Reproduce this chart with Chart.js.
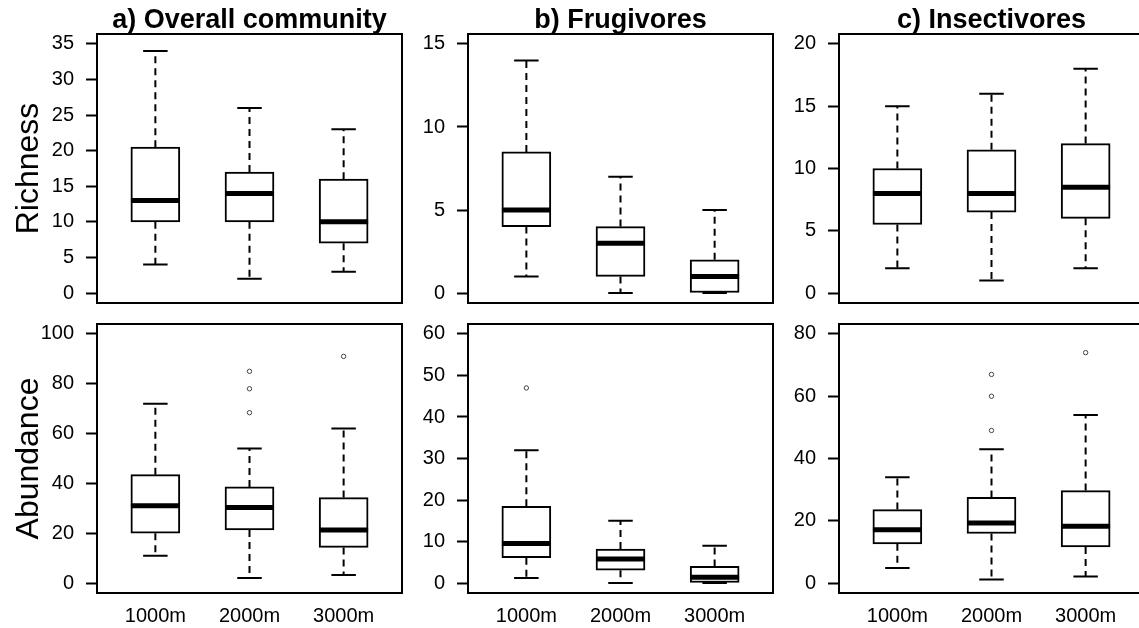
<!DOCTYPE html>
<html><head><meta charset="utf-8">
<script src="https://cdn.jsdelivr.net/npm/chart.js@4.4.0/dist/chart.umd.min.js"></script>
<style>
html,body{margin:0;padding:0;background:#fff;overflow:hidden;width:1139px;height:628px;position:relative;}
canvas{position:absolute;}
</style></head><body>
<canvas id="c0" width="404" height="310" style="left:0;top:0"></canvas>
<canvas id="c1" width="371" height="310" style="left:404px;top:0"></canvas>
<canvas id="c2" width="372" height="310" style="left:774px;top:0"></canvas>
<canvas id="c3" width="407" height="318" style="left:0;top:310px"></canvas>
<canvas id="c4" width="374" height="318" style="left:404px;top:310px"></canvas>
<canvas id="c5" width="375" height="318" style="left:774px;top:310px"></canvas>
<script>
// ---- data (each box: [lower whisker, Q1, median, Q3, upper whisker]) ----
const categories = ['1000m', '2000m', '3000m'];
const panelTitles = ['a) Overall community', 'b) Frugivores', 'c) Insectivores'];
const rowTitles = ['Richness', 'Abundance'];

const richOverallStats = [[4, 10, 13, 20.5, 34], [2, 10, 14, 17, 26], [3, 7, 10, 16, 23]];
const richOverallOutliers = [[], [], []];
const richOverallTicks = [0, 5, 10, 15, 20, 25, 30, 35];
const richOverallLim = [0, 35];

const richFrugStats = [[1, 4, 5, 8.5, 14], [0, 1, 3, 4, 7], [0, 0, 1, 2, 5]];
const richFrugOutliers = [[], [], []];
const richFrugTicks = [0, 5, 10, 15];
const richFrugLim = [0, 15];

const richInsStats = [[2, 5.5, 8, 10, 15], [1, 6.5, 8, 11.5, 16], [2, 6, 8.5, 12, 18]];
const richInsOutliers = [[], [], []];
const richInsTicks = [0, 5, 10, 15, 20];
const richInsLim = [0, 20];

const abunOverallStats = [[11, 20, 31, 43.5, 72], [2, 21.3, 30.3, 38.6, 54], [3.2, 14.3, 21.3, 34.3, 62]];
const abunOverallOutliers = [[], [68.4, 78, 85], [91]];
const abunOverallTicks = [0, 20, 40, 60, 80, 100];
const abunOverallLim = [0, 100];

const abunFrugStats = [[1.2, 6.1, 9.5, 18.5, 32], [0, 3.1, 5.8, 8.2, 15], [0, 0, 1.4, 4, 9]];
const abunFrugOutliers = [[47], [], []];
const abunFrugTicks = [0, 10, 20, 30, 40, 50, 60];
const abunFrugLim = [0, 60];

const abunInsStats = [[4.8, 12.6, 17.1, 23.6, 34], [1.1, 15.9, 19.3, 27.5, 43], [2.1, 11.6, 18.2, 29.7, 54]];
const abunInsOutliers = [[], [49, 60, 67], [74]];
const abunInsTicks = [0, 20, 40, 60, 80];
const abunInsLim = [0, 80];

// ---- drawing ----
const FONT = "'Liberation Sans', Arial, sans-serif";
const BOX_HALF = 0.26, CAP_HALF = 0.13;

const framePlugin = {
  id: 'frame',
  afterDraw(chart) {
    const {ctx, chartArea: a} = chart;
    ctx.save();
    ctx.strokeStyle = '#000';
    ctx.lineWidth = 2;
    ctx.strokeRect(a.left, a.top, a.right - a.left, a.bottom - a.top);
    ctx.restore();
  }
};

function noPad(s) { s.paddingLeft = 0; s.paddingRight = 0; s.paddingTop = 0; s.paddingBottom = 0; }

function makePanel(id, stats, outliers, ticks, lim, opt) {
  const whisk = [], caps = [], meds = [], boxes = [], outs = [];
  stats.forEach((s, i) => {
    const x = i + 1;
    whisk.push({x, y: s[3]}, {x, y: s[4]}, {x, y: null}, {x, y: s[1]}, {x, y: s[0]}, {x, y: null});
    caps.push({x: x - CAP_HALF, y: s[4]}, {x: x + CAP_HALF, y: s[4]}, {x, y: null},
              {x: x - CAP_HALF, y: s[0]}, {x: x + CAP_HALF, y: s[0]}, {x, y: null});
    meds.push({x: x - BOX_HALF, y: s[2]}, {x: x + BOX_HALF, y: s[2]}, {x, y: null});
    boxes.push({x, y: [s[1], s[3]]});
    outliers[i].forEach(v => outs.push({x, y: v}));
  });
  const pad = 0.04 * (lim[1] - lim[0]);
  const scales = {
    x: {
      type: 'linear', min: 0.38, max: 3.62, offset: false,
      afterBuildTicks: s => { s.ticks = [1, 2, 3].map(v => ({value: v})); },
      afterFit: s => { s.height = opt.xHeight; noPad(s); },
      grid: {display: false, drawTicks: false}, border: {display: false},
      ticks: {display: opt.showX, padding: 11, color: '#000', autoSkip: false, maxRotation: 0,
              font: {family: FONT, size: 20}, callback: v => categories[v - 1]}
    },
    y: {
      type: 'linear', min: lim[0] - pad, max: lim[1] + pad,
      afterBuildTicks: s => { s.ticks = ticks.map(v => ({value: v})); },
      afterFit: s => { s.width = opt.yWidth; noPad(s); },
      grid: {display: true, drawOnChartArea: false, drawTicks: true, tickLength: 11,
             tickWidth: 2, tickColor: '#000'},
      border: {display: false},
      ticks: {padding: 12, color: '#000', font: {family: FONT, size: 20}},
      title: {display: !!opt.yTitle, text: opt.yTitle || '', color: '#000',
              font: {family: FONT, size: 32}, padding: {top: 10, bottom: 0}}
    }
  };
  if (opt.title) {
    scales.xTitle = {
      type: 'linear', position: 'top', min: 0, max: 1, display: true,
      afterFit: s => { s.height = opt.titleHeight; noPad(s); },
      grid: {display: false, drawTicks: false}, border: {display: false},
      ticks: {display: false},
      title: {display: true, text: opt.title, color: '#000',
              font: {family: FONT, size: 27, weight: 'bold', lineHeight: 1},
              padding: {top: 7, bottom: 0}}
    };
  }
  new Chart(document.getElementById(id), {
    type: 'bar',
    data: {
      datasets: [
        {type: 'line', data: whisk, borderColor: '#000', borderWidth: 2, borderDash: [7, 5],
         pointRadius: 0, spanGaps: false, order: 3},
        {type: 'line', data: caps, borderColor: '#000', borderWidth: 2,
         pointRadius: 0, spanGaps: false, order: 3},
        {type: 'bar', data: boxes, backgroundColor: '#fff', borderColor: '#000', borderWidth: 2,
         borderSkipped: false, barThickness: 49, order: 2},
        {type: 'line', data: meds, borderColor: '#000', borderWidth: 5, borderCapStyle: 'butt',
         pointRadius: 0, spanGaps: false, order: 1},
        {type: 'scatter', data: outs, pointRadius: 2.2, pointBorderWidth: 1,
         pointBorderColor: '#444', pointBackgroundColor: '#fff', order: 0}
      ]
    },
    options: {
      responsive: false, animation: false, devicePixelRatio: 1,
      layout: {padding: {left: 0, right: 2, top: opt.padTop, bottom: opt.padBottom}},
      plugins: {legend: {display: false}, tooltip: {enabled: false}, title: {display: false}},
      scales
    },
    plugins: [framePlugin]
  });
}

const topRowOpt = {padTop: 0, padBottom: 7, xHeight: 0, showX: false, titleHeight: 34};
const botRowOpt = {padTop: 14, padBottom: 0, xHeight: 35, showX: true};
makePanel('c0', richOverallStats, richOverallOutliers, richOverallTicks, richOverallLim,
  Object.assign({}, topRowOpt, {title: panelTitles[0], yTitle: rowTitles[0], yWidth: 97}));
makePanel('c1', richFrugStats, richFrugOutliers, richFrugTicks, richFrugLim,
  Object.assign({}, topRowOpt, {title: panelTitles[1], yWidth: 64}));
makePanel('c2', richInsStats, richInsOutliers, richInsTicks, richInsLim,
  Object.assign({}, topRowOpt, {title: panelTitles[2], yWidth: 65}));
makePanel('c3', abunOverallStats, abunOverallOutliers, abunOverallTicks, abunOverallLim,
  Object.assign({}, botRowOpt, {yTitle: rowTitles[1], yWidth: 97}));
makePanel('c4', abunFrugStats, abunFrugOutliers, abunFrugTicks, abunFrugLim,
  Object.assign({}, botRowOpt, {yWidth: 64}));
makePanel('c5', abunInsStats, abunInsOutliers, abunInsTicks, abunInsLim,
  Object.assign({}, botRowOpt, {yWidth: 65}));
</script>
</body></html>
